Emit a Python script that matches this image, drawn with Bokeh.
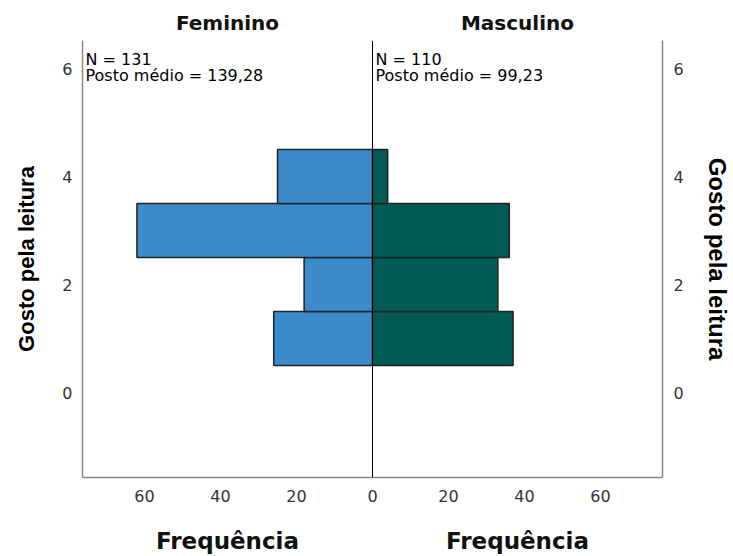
from bokeh.plotting import figure
from bokeh.models import Range1d, FixedTicker, LinearAxis, Label, Span
from bokeh.embed import file_html
from bokeh.resources import INLINE

# ---- data ----
categories = [1, 2, 3, 4]
feminino = [26, 18, 62, 25]
masculino = [37, 33, 36, 4]
groups = ["Feminino", "Masculino"]
n_values = ["131", "110"]
posto_medio = ["139,28", "99,23"]
x_ticks = [-60, -40, -20, 0, 20, 40, 60]
x_tick_labels = ["60", "40", "20", "0", "20", "40", "60"]
y_ticks = [0, 2, 4, 6]
y_label = "Gosto pela leitura"
x_label = "Frequência"

X_MAX = 76.32
Y_MIN, Y_MAX = -1.574, 6.519

FEM_COLOR = "#3b8bcb"
MASC_COLOR = "#005b55"
EDGE = "#222222"
AXIS_COLOR = "#888888"

p = figure(width=733, height=556,
           x_range=Range1d(-X_MAX, X_MAX), y_range=Range1d(Y_MIN, Y_MAX),
           output_backend="svg", toolbar_location=None,
           min_border_left=82, min_border_right=71,
           min_border_top=40, min_border_bottom=79,
           background_fill_color="white", border_fill_color="white")
p.outline_line_color = None
p.grid.visible = False

p.hbar(y=categories, left=[-v for v in feminino], right=0, height=1,
       fill_color=FEM_COLOR, line_color=EDGE, line_width=1.5)
p.hbar(y=categories, left=0, right=masculino, height=1,
       fill_color=MASC_COLOR, line_color=EDGE, line_width=1.5)

p.add_layout(Span(location=0, dimension="height", line_color="black", line_width=1))

def style_axis(ax):
    ax.axis_line_color = AXIS_COLOR
    ax.axis_line_width = 1.5
    ax.major_tick_line_color = None
    ax.minor_tick_line_color = None
    ax.major_label_text_font = "DejaVu Sans"
    ax.major_label_text_font_size = "16px"
    ax.major_label_text_color = "#333333"

def style_text_axis(ax, size, standoff):
    ax.axis_line_color = None
    ax.major_tick_line_color = None
    ax.minor_tick_line_color = None
    ax.major_label_text_font = "DejaVu Sans"
    ax.major_label_text_font_style = "bold"
    ax.major_label_text_font_size = size
    ax.major_label_text_color = "#111111"
    ax.major_label_standoff = standoff

# bottom axis
xa = p.xaxis[0]
xa.ticker = FixedTicker(ticks=x_ticks)
xa.major_label_overrides = {t: s for t, s in zip(x_ticks, x_tick_labels)}
style_axis(xa)
xa.major_label_standoff = 6

# left axis
ya = p.yaxis[0]
ya.ticker = FixedTicker(ticks=y_ticks)
style_axis(ya)
ya.major_label_standoff = 4
ya.axis_label = y_label
ya.axis_label_text_font = "Liberation Sans"
ya.axis_label_text_font_style = "bold"
ya.axis_label_text_font_size = "22px"
ya.axis_label_text_color = "black"
ya.axis_label_standoff = 20

# right axis
ra = LinearAxis(ticker=FixedTicker(ticks=y_ticks))
style_axis(ra)
ra.major_label_standoff = 5
ra.axis_label = y_label
ra.axis_label_text_font = "Liberation Sans"
ra.axis_label_text_font_style = "bold"
ra.axis_label_text_font_size = "24px"
ra.axis_label_text_color = "black"
ra.axis_label_standoff = 17
p.add_layout(ra, "right")

# panel titles (above) and x-axis titles (below), one per half
centers = [-X_MAX / 2, X_MAX / 2]
top_axis = LinearAxis(ticker=FixedTicker(ticks=centers),
                      major_label_overrides={c: g for c, g in zip(centers, groups)})
style_text_axis(top_axis, "20px", 0)
p.add_layout(top_axis, "above")

freq_axis = LinearAxis(ticker=FixedTicker(ticks=centers),
                       major_label_overrides={c: x_label for c in centers})
style_text_axis(freq_axis, "23px", 17)
p.add_layout(freq_axis, "below")

# statistics in the top-left corner of each half
starts = [-X_MAX, 0]
for s, n, pm in zip(starts, n_values, posto_medio):
    p.add_layout(Label(x=s, y=Y_MAX, x_offset=3, y_offset=-19, text=f"N = {n}",
                       text_align="left", text_baseline="alphabetic",
                       text_font="DejaVu Sans", text_font_size="16px",
                       text_color="black"))
    p.add_layout(Label(x=s, y=Y_MAX, x_offset=3, y_offset=-35,
                       text=f"Posto médio = {pm}",
                       text_align="left", text_baseline="alphabetic",
                       text_font="DejaVu Sans", text_font_size="16px",
                       text_color="black"))

open("out.html", "w").write(file_html(p, INLINE))
